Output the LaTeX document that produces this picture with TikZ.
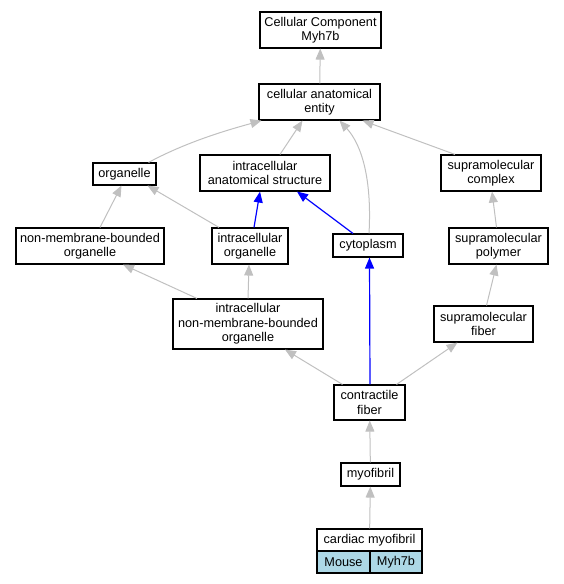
\documentclass[tikz,border=0pt]{standalone}
\usepackage{fontspec}
\setmainfont{Liberation Sans}
\usetikzlibrary{arrows.meta}
\definecolor{lblue}{RGB}{173,216,230}
\definecolor{edgegray}{RGB}{192,192,192}
\begin{document}
\begin{tikzpicture}[x=1pt,y=-1pt,
  box/.style={draw=black,line width=1.1pt,fill=white,align=center,inner sep=0pt,
    font=\fontsize{12.7}{14.5}\selectfont},
  isa/.style={draw=edgegray,line width=1pt,-{Triangle[length=11pt,width=9pt]}},
  pof/.style={draw=blue,line width=1.2pt,-{Triangle[length=11pt,width=9pt]}},
  spc/.style={fill=lblue,draw=black,line width=1.1pt,inner sep=0pt,font=\fontsize{12.7}{14.5}\selectfont}]
\useasboundingbox (0,0) rectangle (564,584);
\node[box,minimum width=121pt,minimum height=36pt] (cc) at (320.5,30) {Cellular Component\\Myh7b};
\node[box,minimum width=121pt,minimum height=36pt] (cae) at (319.5,102) {cellular anatomical\\entity};
\node[box,minimum width=63pt,minimum height=22pt] (org) at (124.5,174) {organelle};
\node[box,minimum width=130pt,minimum height=36pt] (ias) at (265,173) {intracellular\\anatomical structure};
\node[box,minimum width=100pt,minimum height=36pt] (sc) at (491,173) {supramolecular\\complex};
\node[box,minimum width=148pt,minimum height=36pt] (nmbo) at (90,246) {non-membrane-bounded\\organelle};
\node[box,minimum width=76pt,minimum height=36pt] (io) at (250,246) {intracellular\\organelle};
\node[box,minimum width=70pt,minimum height=23pt] (cyto) at (368,245.5) {cytoplasm};
\node[box,minimum width=99pt,minimum height=36pt] (spol) at (498.5,246) {supramolecular\\polymer};
\node[box,minimum width=150pt,minimum height=50pt] (inmbo) at (248,324) {intracellular\\non-membrane-bounded\\organelle};
\node[box,minimum width=99pt,minimum height=36pt] (sf) at (483.5,324) {supramolecular\\fiber};
\node[box,minimum width=71pt,minimum height=35pt] (cf) at (369.5,402.5) {contractile\\fiber};
\node[box,minimum width=59pt,minimum height=23pt] (myo) at (370.5,474.5) {myofibril};
\node[box,minimum width=105pt,minimum height=22pt] (cm) at (369.5,540) {cardiac myofibril};
\node[spc,minimum width=53pt,minimum height=22pt] (mouse) at (343.5,562) {Mouse};
\node[spc,minimum width=52pt,minimum height=22pt] (gene) at (396,562) {Myh7b};
% edges
\draw[isa] (cae) -- (cc);
\draw[isa] ([xshift=24pt]org.north) .. controls (190,140) and (235,128) .. ([xshift=-58pt]cae.south);
\draw[isa] ([xshift=15pt]ias.north) -- ([xshift=-17pt]cae.south);
\draw[isa] ([xshift=1pt]cyto.north) .. controls (372,180) and (362,145) .. ([xshift=20pt]cae.south);
\draw[isa] ([xshift=-36pt]sc.north) -- ([xshift=43pt]cae.south);
\draw[isa] ([xshift=10pt]nmbo.north) -- ([xshift=-3pt]org.south);
\draw[isa] ([xshift=-31pt]io.north) -- ([xshift=23pt]org.south);
\draw[pof] ([xshift=4pt]io.north) -- ([xshift=-5pt]ias.south);
\draw[pof] ([xshift=-15pt]cyto.north) -- ([xshift=32pt]ias.south);
\draw[isa] ([xshift=-2pt]spol.north) -- ([xshift=1pt]sc.south);
\draw[isa] ([xshift=3pt]sf.north) -- ([xshift=-2pt]spol.south);
\draw[isa] ([xshift=-51pt]inmbo.north) -- ([xshift=33pt]nmbo.south);
\draw[isa] ([xshift=0pt]inmbo.north) -- ([xshift=-1pt]io.south);
\draw[isa] ([xshift=-27pt]cf.north) -- ([xshift=37pt]inmbo.south);
\draw[pof] ([xshift=0.5pt]cf.north) -- ([xshift=1.5pt]cyto.south);
\draw[isa] ([xshift=27pt]cf.north) -- ([xshift=-26pt]sf.south);
\draw[isa] (myo) -- (cf);
\draw[isa] (cm) -- (myo);
\end{tikzpicture}
\end{document}
